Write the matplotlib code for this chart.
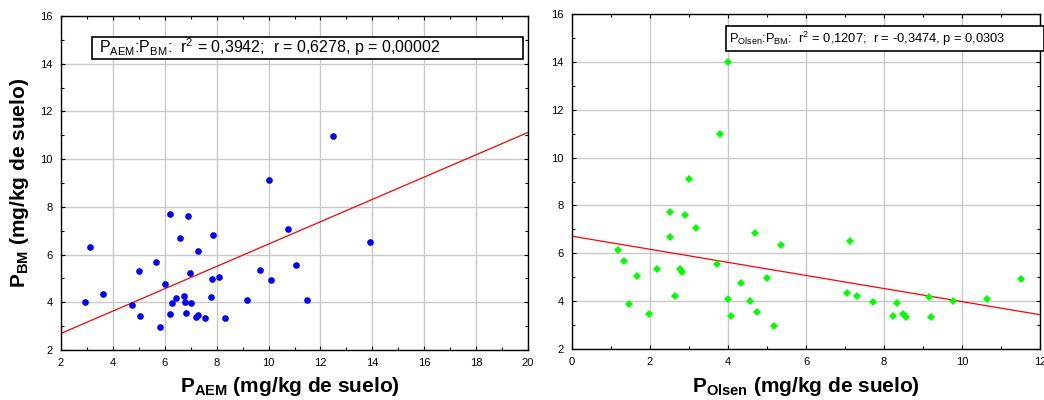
import numpy as np
import matplotlib
matplotlib.use("Agg")
import matplotlib.pyplot as plt
from matplotlib.ticker import MultipleLocator

plt.rcParams['font.family'] = ['Liberation Sans', 'DejaVu Sans']
plt.rcParams['mathtext.fontset'] = 'custom'
plt.rcParams['mathtext.rm'] = 'Liberation Sans'
plt.rcParams['mathtext.it'] = 'Liberation Sans'
plt.rcParams['mathtext.bf'] = 'Liberation Sans:bold'

# Left panel: P_AEM vs P_BM
p_aem = [2.91, 3.11, 3.63, 4.75, 4.99, 5.05, 5.67, 5.82, 5.99, 6.20, 6.20, 6.27, 6.43,
         6.57, 6.76, 6.79, 6.83, 6.89, 6.98, 7.00, 7.20, 7.27, 7.29, 7.56, 7.79, 7.83,
         7.86, 8.10, 8.34, 9.16, 9.67, 10.01, 10.10, 10.74, 11.04, 11.50, 12.50, 13.91]
p_bm_left = [4.03, 6.33, 4.35, 3.89, 5.33, 3.43, 5.69, 2.98, 4.78, 7.70, 3.50, 3.98, 4.17,
             6.69, 4.25, 4.03, 3.56, 7.63, 5.21, 3.96, 3.38, 3.48, 6.16, 3.34, 4.22, 4.98,
             6.83, 5.07, 3.34, 4.10, 5.37, 9.11, 4.93, 7.06, 5.55, 4.10, 10.98, 6.51]
# Regression line as drawn in the reference (fit includes points outside the view)
left_fit_slope = 0.468
left_fit_intercept = 1.76

# Right panel: P_Olsen vs P_BM
p_olsen = [1.17, 1.33, 1.45, 1.67, 1.98, 2.18, 2.50, 2.51, 2.63, 2.76, 2.81, 2.90, 2.99,
           3.19, 3.72, 3.80, 4.00, 4.00, 4.07, 4.34, 4.56, 4.70, 4.74, 4.99, 5.17, 5.35,
           7.04, 7.13, 7.31, 7.73, 8.22, 8.33, 8.49, 8.57, 9.16, 9.20, 9.76, 10.65, 11.52]
p_bm_right = [6.15, 5.67, 3.86, 5.06, 3.48, 5.35, 6.69, 7.71, 4.23, 5.33, 5.20, 7.62, 9.11,
              7.04, 5.56, 10.99, 14.00, 4.09, 3.39, 4.77, 4.00, 6.83, 3.54, 4.95, 2.96, 6.33,
              4.34, 6.51, 4.23, 3.98, 3.36, 3.93, 3.48, 3.32, 4.16, 3.32, 4.02, 4.09, 4.91]

left_stats = r'$\mathrm{P_{AEM}}$:$\mathrm{P_{BM}}$:  $\mathrm{r^2}$ = 0,3942;  r = 0,6278, p = 0,00002'
right_stats = r'$\mathrm{P_{Olsen}}$:$\mathrm{P_{BM}}$:  $\mathrm{r^2}$ = 0,1207;  r = -0,3474, p = 0,0303'

W, H = 1044, 400
fig = plt.figure(figsize=(W / 100, H / 100), dpi=100)
fig.patch.set_facecolor('white')

axL = fig.add_axes([61 / W, (H - 350) / H, (528 - 61) / W, (350 - 16) / H])
axR = fig.add_axes([572 / W, (H - 349) / H, (1040 - 572) / W, (349 - 14) / H])


def style(ax, xlim, xmaj):
    ax.set_xlim(*xlim)
    ax.set_ylim(2, 16)
    ax.xaxis.set_major_locator(MultipleLocator(xmaj))
    ax.xaxis.set_minor_locator(MultipleLocator(1))
    ax.yaxis.set_major_locator(MultipleLocator(2))
    ax.yaxis.set_minor_locator(MultipleLocator(1))
    ax.grid(True, which='major', color='#c8c8c8', linewidth=1.0)
    ax.set_axisbelow(True)
    ax.tick_params(which='both', direction='in', top=True, right=True,
                   labelsize=8, width=0.8, colors='black', pad=6)
    ax.tick_params(which='major', length=3)
    ax.tick_params(which='minor', length=2)
    for s in ax.spines.values():
        s.set_linewidth(1.0)
        s.set_color('black')


style(axL, (2, 20), 2)
style(axR, (0, 12), 2)

# Left scatter + fit
axL.plot(p_aem, p_bm_left, 'o', color='#0000ff', markersize=4.8, markeredgewidth=0, zorder=3)
xl = np.array(axL.get_xlim())
axL.plot(xl, left_fit_intercept + left_fit_slope * xl, color='#ff0000', linewidth=0.9, zorder=2)

# Right scatter + fit
axR.plot(p_olsen, p_bm_right, 'D', color='#00ff00', markersize=3.8, markeredgewidth=0, zorder=3)
cR = np.polyfit(p_olsen, p_bm_right, 1)
xr = np.array(axR.get_xlim())
axR.plot(xr, np.polyval(cR, xr), color='#ff0000', linewidth=0.9, zorder=2)

# Stats boxes
fig.patches.append(plt.Rectangle((92 / W, (H - 58.5) / H), (523 - 92) / W, 21.5 / H,
                                 transform=fig.transFigure, facecolor='white',
                                 edgecolor='black', linewidth=1.2, zorder=5))
fig.text(99 / W, (H - 47.5) / H, left_stats, fontsize=11.5, va='center', ha='left', zorder=6)

fig.patches.append(plt.Rectangle((726 / W, (H - 50.5) / H), (1044 - 726) / W, 24 / H,
                                 transform=fig.transFigure, facecolor='white',
                                 edgecolor='black', linewidth=1.2, zorder=5))
fig.text(729 / W, (H - 39) / H, right_stats, fontsize=9.3, va='center', ha='left', zorder=6)

# Axis labels
fig.text(290 / W, (H - 386) / H, r'$\mathbf{P_{AEM}}$ (mg/kg de suelo)', fontsize=15,
         fontweight='bold', ha='center', va='center')
fig.text(806 / W, (H - 386) / H, r'$\mathbf{P_{Olsen}}$ (mg/kg de suelo)', fontsize=15,
         fontweight='bold', ha='center', va='center')
fig.text(20 / W, (H - 183) / H, r'$\mathbf{P_{BM}}$ (mg/kg de suelo)', fontsize=15,
         fontweight='bold', ha='center', va='center', rotation=90)

fig.savefig('out.png', dpi=100, facecolor='white')
